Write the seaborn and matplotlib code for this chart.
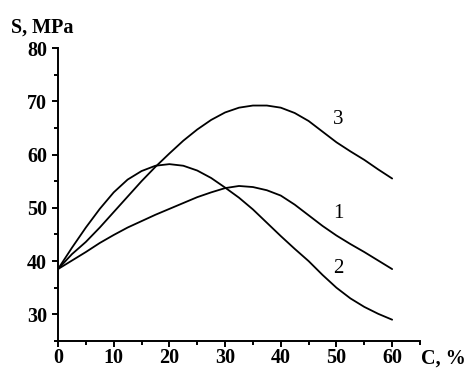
import matplotlib
matplotlib.use('Agg')
import matplotlib.pyplot as plt
import seaborn as sns
import pandas as pd
from matplotlib.ticker import MultipleLocator

# ---- data ----
c_pct = [0, 2.5, 5, 7.5, 10, 12.5, 15, 17.5, 20, 22.5, 25, 27.5, 30,
         32.5, 35, 37.5, 40, 42.5, 45, 47.5, 50, 52.5, 55, 57.5, 60]
s1 = [38.5, 40.1, 41.7, 43.4, 44.9, 46.3, 47.5, 48.7, 49.8, 50.9, 52.0, 52.9, 53.7,
      54.1, 53.9, 53.3, 52.3, 50.6, 48.6, 46.6, 44.8, 43.2, 41.7, 40.1, 38.5]
s2 = [38.5, 42.5, 46.3, 49.8, 52.9, 55.3, 56.9, 57.9, 58.2, 57.9, 57.0, 55.6, 53.8,
      51.9, 49.7, 47.2, 44.7, 42.3, 40.0, 37.4, 35.0, 33.0, 31.4, 30.1, 29.0]
s3 = [38.5, 41.3, 43.6, 46.3, 49.2, 52.1, 55.0, 57.7, 60.2, 62.6, 64.7, 66.5, 67.9,
      68.8, 69.2, 69.2, 68.8, 67.8, 66.3, 64.3, 62.3, 60.6, 59.0, 57.2, 55.5]

curve_labels = ["1", "2", "3"]
label_x = [50.3, 50.3, 50.3]
label_y = [48.9, 38.7, 66.6]

x_ticks = [0, 10, 20, 30, 40, 50, 60]
y_ticks = [30, 40, 50, 60, 70, 80]

sns.set_theme(style='white')
plt.rcParams['font.family'] = ['Liberation Serif', 'DejaVu Serif']

FS = 14.5
FW = 'bold'

fig = plt.figure(figsize=(4.69, 3.70), dpi=100)
ax = fig.add_axes([58 / 469, 1 - 341 / 370, (420 - 58) / 469, (341 - 48) / 370])

for ys in [s1, s2, s3]:
    df = pd.DataFrame({"C": c_pct, "S": ys})
    sns.lineplot(data=df, x="C", y="S", ax=ax, color="black", linewidth=1.3)

for t, lx, ly in zip(curve_labels, label_x, label_y):
    ax.text(lx, ly, t, fontsize=15, ha='center', va='center', color='black')

ax.set_xlim(0, 65)
ax.set_ylim(25, 80)
ax.set_xticks(x_ticks)
ax.set_yticks(y_ticks)
ax.xaxis.set_minor_locator(MultipleLocator(5))
ax.yaxis.set_minor_locator(MultipleLocator(5))
ax.set_xlabel("")
ax.set_ylabel("")

for side in ['top', 'right']:
    ax.spines[side].set_visible(False)
for side in ['left', 'bottom']:
    ax.spines[side].set_color('black')
    ax.spines[side].set_linewidth(1.4)

ax.tick_params(which='major', direction='out', length=4, width=1.4, color='black',
               labelsize=FS, pad=4, left=True, bottom=True, labelcolor='black')
ax.tick_params(which='minor', direction='out', length=3, width=1.4, color='black',
               left=True, bottom=True)
ax.tick_params(axis='x', which='major', pad=1)
for lab in ax.get_xticklabels() + ax.get_yticklabels():
    lab.set_fontweight(FW)

fig.text(11 / 469, 1 - 28 / 370, "S, MPa", fontsize=FS, fontweight=FW,
         ha='left', va='center', color='black')
fig.text(421 / 469, 1 - 359 / 370, "C, %", fontsize=FS, fontweight=FW,
         ha='left', va='center', color='black')

fig.savefig("out.png", dpi=100)
